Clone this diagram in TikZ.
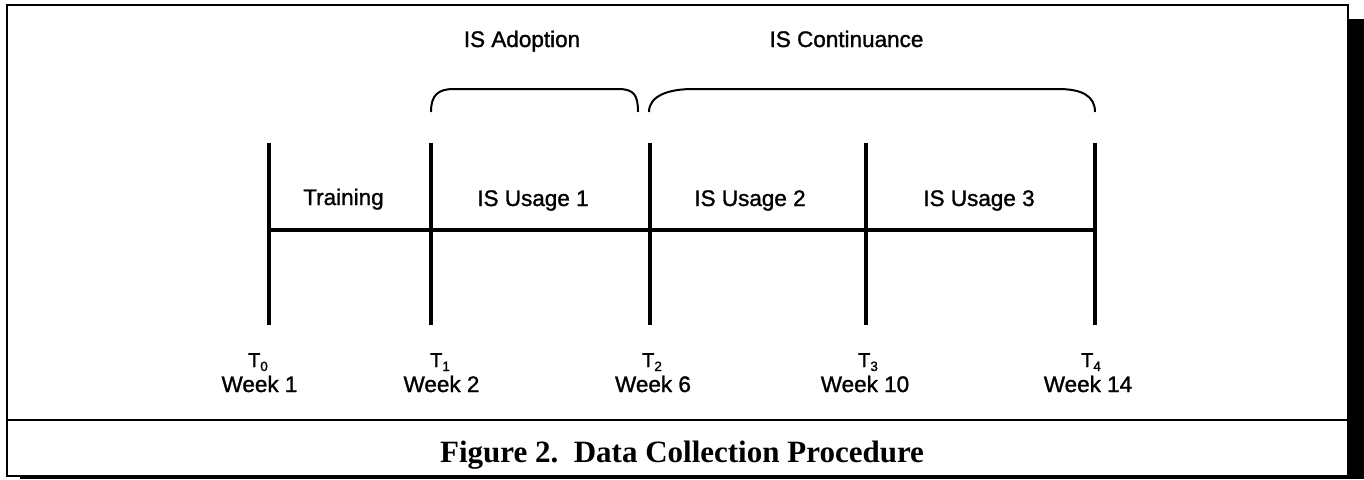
\documentclass[tikz,border=0pt]{standalone}
\usepackage{fontspec}
\setmainfont{Liberation Sans}[BoldFont={Liberation Sans}, BoldFeatures={FakeBold=1.3}]
\newfontfamily\capfont{Liberation Serif}
\tikzset{
  lbl/.style={anchor=base, inner sep=0pt, font=\bfseries\fontsize{22.5}{26}\selectfont},
  tlbl/.style={anchor=base, inner sep=0pt, font=\bfseries\fontsize{20}{24}\selectfont},
  tick/.style={line width=3.2pt},
  axis/.style={line width=3.2pt},
  brace/.style={line width=2pt},
  frame/.style={line width=2.6pt}
}
\newcommand{\tsub}[1]{T\raisebox{-4pt}{\fontsize{13.5}{14}\selectfont #1}}
\begin{document}
\begin{tikzpicture}[x=1pt,y=-1pt]
\useasboundingbox (0,0) rectangle (1364,479);
% shadow
\fill[black] (1349,19) rectangle (1364,479);
\fill[black] (20,476) rectangle (1364,479);
% frame
\draw[frame] (7,5) rectangle (1348,476);
\draw[frame] (7,420) -- (1348,420);
% tick coordinates
\foreach \n/\x in {0/269,1/431,2/650,3/866,4/1095}{
  \coordinate (top\n) at (\x,143);
  \coordinate (bot\n) at (\x,325);
  \coordinate (mid\n) at (\x,230);
  \draw[tick] (top\n) -- (bot\n);
}
\draw[axis] (mid0) -- (mid4);
% braces
\draw[brace] (431,112) .. controls (431,95) and (438,89) .. (454,89) -- (618,89)
  .. controls (634,89) and (638,95) .. (638,112);
\draw[brace] (649,112) .. controls (649,96) and (668,89) .. (693,89) -- (1058,89)
  .. controls (1082,89) and (1095,96) .. (1095,112);
% top labels
\node[lbl] (adopt) at (522,47) {IS Adoption};
\node[lbl] (cont) at (846.5,47) {IS Continuance};
% segment labels
\node[lbl] (train) at (343.5,205) {Training};
\node[lbl] (u1) at (533,206) {IS Usage 1};
\node[lbl] (u2) at (750,206) {IS Usage 2};
\node[lbl] (u3) at (979,206) {IS Usage 3};
% time labels
\node[tlbl] (t0) at (258,367) {\tsub{0}};
\node[tlbl] (t1) at (440,367) {\tsub{1}};
\node[tlbl] (t2) at (652,367) {\tsub{2}};
\node[tlbl] (t3) at (868,367) {\tsub{3}};
\node[tlbl] (t4) at (1091,367) {\tsub{4}};
\node[lbl] (w0) at (259.5,392) {Week 1};
\node[lbl] (w1) at (441.5,392) {Week 2};
\node[lbl] (w2) at (653,392) {Week 6};
\node[lbl] (w3) at (865,392) {Week 10};
\node[lbl] (w4) at (1088,392) {Week 14};
% caption
\node[anchor=base, inner sep=0pt, font=\capfont\bfseries\fontsize{31}{34}\selectfont] (cap) at (682,462) {Figure 2.\ \ Data Collection Procedure};
\end{tikzpicture}
\end{document}
